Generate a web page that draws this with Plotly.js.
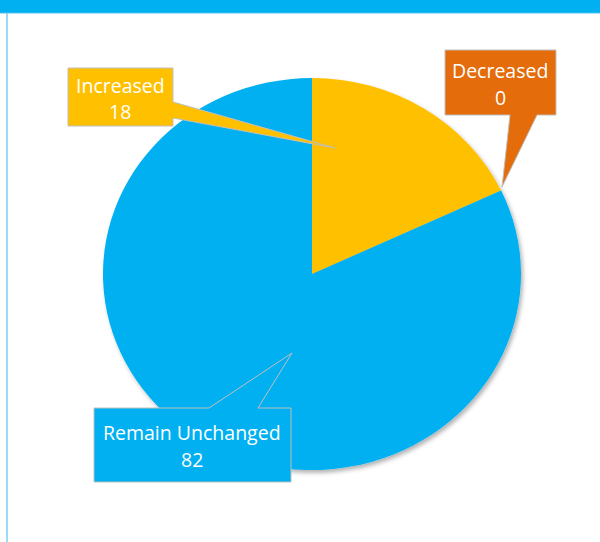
<!DOCTYPE html>
<html>
<head>
<meta charset="utf-8">
<script src="https://cdn.plot.ly/plotly-3.0.1.min.js"></script>
<style>
  html, body { margin: 0; padding: 0; background: #ffffff; }
  #chart { width: 600px; height: 542px; }
</style>
</head>
<body>
<div id="chart"></div>
<script>
// ---- data ----
const categories = ["Increased", "Decreased", "Remain Unchanged"];
const values = [18, 0, 82];
const sliceColors = ["#FFC000", "#E46C0A", "#00B0F0"];

// ---- helpers for pixel -> paper ----
const W = 600, H = 542;
const X = px => px / W;
const Y = py => 1 - py / H;
function path(points) {
  return "M " + points.map(p => X(p[0]).toFixed(5) + "," + Y(p[1]).toFixed(5)).join(" L ") + " Z";
}

// pie geometry (pixels)
const cx = 312, cy = 274, rx = 209, ry = 196;

const pie = {
  type: "pie",
  labels: categories,
  values: values,
  sort: false,
  direction: "clockwise",
  rotation: 0,
  textinfo: "none",
  hoverinfo: "none",
  marker: { colors: sliceColors, line: { width: 0 } },
  domain: { x: [X(cx - rx), X(cx + rx)], y: [Y(cy + rx), Y(cy - rx)] },
  showlegend: false
};

// callout outlines (box + pointer)
const callouts = [
  { color: sliceColors[0], pts: [[68,68],[173,68],[173,102],[335,148],[173,118],[173,126],[68,126]] },
  { color: sliceColors[1], pts: [[445,50],[556,50],[556,115],[537,115],[502,187],[510,115],[445,115]] },
  { color: sliceColors[2], pts: [[94,408],[209,408],[292,353],[258,408],[291,408],[291,482],[94,482]] }
];

const shapes = [
  // header band
  { type: "rect", xref: "paper", yref: "paper", x0: 0, x1: 1, y0: Y(13), y1: 1,
    fillcolor: "#00B0F0", line: { width: 0 }, layer: "above" },
  { type: "line", xref: "paper", yref: "paper", x0: 0, x1: 1, y0: Y(13.3), y1: Y(13.3),
    line: { color: "#9ADCF6", width: 1 }, layer: "above" },
  // left border
  { type: "line", xref: "paper", yref: "paper", x0: X(7), x1: X(7), y0: 0, y1: Y(13),
    line: { color: "#7FD3F4", width: 1.6 }, layer: "above" }
];
callouts.forEach(c => shapes.push({
  type: "path", xref: "paper", yref: "paper", path: path(c.pts),
  fillcolor: c.color, line: { color: "#BFBFBF", width: 1 }, layer: "above"
}));

const font = { family: "'Open Sans', Lato, sans-serif", size: 19.5, color: "#FFFFFF" };
const labelPos = [
  { x: 120, y1: 85.5, y2: 111.5 },
  { x: 500, y1: 70.5, y2: 97.5 },
  { x: 192, y1: 432, y2: 459 }
];
const annotations = [];
categories.forEach((c, i) => {
  const p = labelPos[i];
  annotations.push({ xref: "paper", yref: "paper", x: X(p.x), y: Y(p.y1), text: c,
    showarrow: false, xanchor: "center", yanchor: "middle", font: font });
  annotations.push({ xref: "paper", yref: "paper", x: X(p.x), y: Y(p.y2), text: String(values[i]),
    showarrow: false, xanchor: "center", yanchor: "middle", font: font });
});

const layout = {
  width: W, height: H,
  margin: { l: 0, r: 0, t: 0, b: 0 },
  paper_bgcolor: "#FFFFFF",
  plot_bgcolor: "#FFFFFF",
  showlegend: false,
  shapes: shapes,
  annotations: annotations
};

Plotly.newPlot("chart", [pie], layout, { displayModeBar: false, staticPlot: true }).then(gd => {
  const svg = gd.querySelector("svg.main-svg");
  const ns = "http://www.w3.org/2000/svg";
  let defs = svg.querySelector("defs");
  if (!defs) { defs = document.createElementNS(ns, "defs"); svg.insertBefore(defs, svg.firstChild); }
  const f = document.createElementNS(ns, "filter");
  f.setAttribute("id", "pieShadow");
  f.setAttribute("x", "-10%"); f.setAttribute("y", "-10%");
  f.setAttribute("width", "120%"); f.setAttribute("height", "120%");
  const ds = document.createElementNS(ns, "feDropShadow");
  ds.setAttribute("dx", "2"); ds.setAttribute("dy", "3");
  ds.setAttribute("stdDeviation", "2");
  ds.setAttribute("flood-color", "#000000");
  ds.setAttribute("flood-opacity", "0.3");
  f.appendChild(ds);
  defs.appendChild(f);
  const pl = svg.querySelector(".pielayer");
  if (pl) {
    const s = ry / rx;
    pl.setAttribute("transform", `translate(0,${(cy * (1 - s)).toFixed(2)}) scale(1,${s.toFixed(4)})`);
    pl.setAttribute("filter", "url(#pieShadow)");
  }
});
</script>
</body>
</html>
